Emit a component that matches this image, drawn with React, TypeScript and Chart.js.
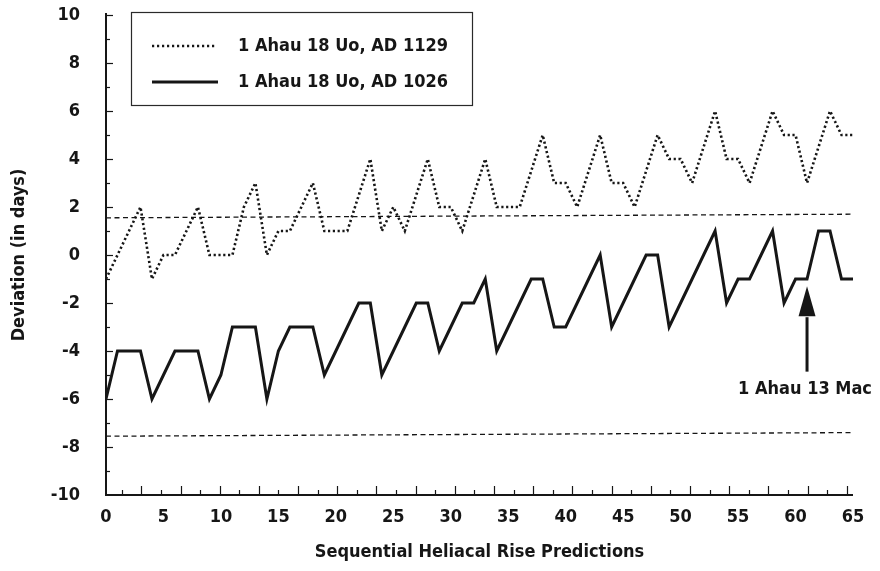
import React, { useEffect, useRef } from "react";
import { Chart, registerables } from "chart.js";

Chart.register(...registerables);

// ---- data ----
const seriesLabels = ["1 Ahau 18 Uo, AD 1129", "1 Ahau 18 Uo, AD 1026"];

// deviation in days, prediction index 0..65
const dev1129 = [
  -1, 0, 1, 2, -1,
  0, 0, 1, 2, 0,
  0, 0, 2, 3, 0,
  1, 1, 2, 3, 1,
  1, 1, 2.5, 4, 1,
  2, 1, 2.5, 4, 2,
  2, 1, 2.5, 4, 2,
  2, 2, 3.5, 5, 3,
  3, 2, 3.5, 5, 3,
  3, 2, 3.5, 5, 4,
  4, 3, 4.5, 6, 4,
  4, 3, 4.5, 6, 5,
  5, 3, 4.5, 6, 5,
  5,
];

const dev1026 = [
  -6, -4, -4, -4, -6,
  -5, -4, -4, -4, -6,
  -5, -3, -3, -3, -6,
  -4, -3, -3, -3, -5,
  -4, -3, -2, -2, -5,
  -4, -3, -2, -2, -4,
  -3, -2, -2, -1, -4,
  -3, -2, -1, -1, -3,
  -3, -2, -1, 0, -3,
  -2, -1, 0, 0, -3,
  -2, -1, 0, 1, -2,
  -1, -1, 0, 1, -2,
  -1, -1, 1, 1, -1,
  -1,
];

// dashed reference lines: value at x=0 and at x=65
const refLineX = [0, 65];
const upperRef = [1.55, 1.7];
const lowerRef = [-7.55, -7.4];

// annotation
const annotationText = "1 Ahau 13 Mac";
const annotationX = 61;
const annotationTipY = -1.3;
const annotationHeadBaseY = -2.55;
const annotationTailY = -4.86;
const annotationTextY = -5.6;

// axes
const xMin = 0;
const xMax = 65;
const xStep = 5;
const yMin = -10;
const yMax = 10;
const yStep = 2;
const xTitle = "Sequential Heliacal Rise Predictions";
const yTitle = "Deviation (in days)";

const FONT = "'Liberation Sans Narrow', 'DejaVu Sans Condensed', 'Liberation Sans', Arial, sans-serif";
const FONT_SIZE = 18;
const INK = "#161616";

const overlayPlugin = {
  id: "overlay",
  afterDraw(chart: any) {
    const { ctx } = chart;
    const x = chart.scales.x;
    const y = chart.scales.y;
    ctx.save();
    ctx.strokeStyle = INK;
    ctx.fillStyle = INK;

    // axes lines
    ctx.lineWidth = 2;
    ctx.beginPath();
    ctx.moveTo(x.left, y.top - 2);
    ctx.lineTo(x.left, y.bottom);
    ctx.lineTo(x.right, y.bottom);
    ctx.stroke();

    // y ticks (inward)
    ctx.lineWidth = 1.2;
    for (let v = yMin + 1; v <= yMax; v++) {
      const py = Math.round(y.getPixelForValue(v)) + 0.5;
      const len = v % 2 === 0 ? 7 : 4;
      ctx.beginPath();
      ctx.moveTo(x.left, py);
      ctx.lineTo(x.left + len, py);
      ctx.stroke();
    }
    // x ticks (inward)
    let k = 0;
    for (let v = 1.37; v <= xMax; v += 1.705) {
      const px = Math.round(x.getPixelForValue(v)) + 0.5;
      const len = k % 2 === 1 ? 9 : 5;
      ctx.beginPath();
      ctx.moveTo(px, y.bottom);
      ctx.lineTo(px, y.bottom - len);
      ctx.stroke();
      k++;
    }

    // legend box
    ctx.lineWidth = 1.2;
    ctx.strokeStyle = "#2a2a2a";
    ctx.strokeRect(131.5, 12.5, 341, 93);
    // legend samples
    ctx.strokeStyle = INK;
    ctx.lineWidth = 2.4;
    ctx.setLineDash([2.2, 2.8]);
    ctx.beginPath();
    ctx.moveTo(152, 46);
    ctx.lineTo(217, 46);
    ctx.stroke();
    ctx.setLineDash([]);
    ctx.lineWidth = 3;
    ctx.beginPath();
    ctx.moveTo(152, 82);
    ctx.lineTo(218, 82);
    ctx.stroke();
    ctx.font = `bold ${FONT_SIZE}px ${FONT}`;
    ctx.textAlign = "left";
    ctx.textBaseline = "middle";
    ctx.fillText(seriesLabels[0], 238, 46);
    ctx.fillText(seriesLabels[1], 238, 82);

    // annotation arrow
    const ax = x.getPixelForValue(annotationX);
    const tip = y.getPixelForValue(annotationTipY);
    const headBase = y.getPixelForValue(annotationHeadBaseY);
    const tail = y.getPixelForValue(annotationTailY);
    ctx.lineWidth = 3;
    ctx.beginPath();
    ctx.moveTo(ax, tail);
    ctx.lineTo(ax, headBase + 1);
    ctx.stroke();
    ctx.beginPath();
    ctx.moveTo(ax, tip);
    ctx.lineTo(ax - 8.5, headBase);
    ctx.lineTo(ax + 8.5, headBase);
    ctx.closePath();
    ctx.fill();
    ctx.textAlign = "center";
    ctx.fillText(annotationText, ax - 2, y.getPixelForValue(annotationTextY));

    ctx.restore();
  },
};

export default function App() {
  const canvasRef = useRef<HTMLCanvasElement | null>(null);

  useEffect(() => {
    const canvas = canvasRef.current;
    if (!canvas) return;
    const chart = new Chart(canvas, {
      type: "line",
      data: {
        datasets: [
          {
            label: seriesLabels[0],
            data: dev1129.map((v, i) => ({ x: i, y: v })),
            borderColor: INK,
            borderWidth: 2.6,
            borderDash: [2.2, 2.6],
            pointRadius: 0,
            tension: 0,
            fill: false,
          },
          {
            label: seriesLabels[1],
            data: dev1026.map((v, i) => ({ x: i, y: v })),
            borderColor: INK,
            borderWidth: 3,
            pointRadius: 0,
            tension: 0,
            fill: false,
            borderJoinStyle: "miter",
          },
          {
            label: "upper",
            data: refLineX.map((xv, i) => ({ x: xv, y: upperRef[i] })),
            borderColor: INK,
            borderWidth: 1.3,
            borderDash: [5, 3.5],
            pointRadius: 0,
            fill: false,
          },
          {
            label: "lower",
            data: refLineX.map((xv, i) => ({ x: xv, y: lowerRef[i] })),
            borderColor: INK,
            borderWidth: 1.3,
            borderDash: [5, 3.5],
            pointRadius: 0,
            fill: false,
          },
        ],
      },
      options: {
        animation: false,
        responsive: false,
        devicePixelRatio: 1,
        layout: { padding: { left: 0, top: 15, right: 27, bottom: 0 } },
        plugins: {
          legend: { display: false },
          tooltip: { enabled: false },
        },
        scales: {
          x: {
            type: "linear",
            min: xMin,
            max: xMax,
            grid: { display: false, drawTicks: false },
            border: { display: false },
            ticks: {
              stepSize: xStep,
              padding: 12,
              color: INK,
              font: { family: FONT, size: FONT_SIZE, weight: "bold" },
              maxRotation: 0,
            },
            title: {
              display: true,
              text: xTitle,
              color: INK,
              font: { family: FONT, size: FONT_SIZE, weight: "bold" },
              padding: { top: 0, bottom: 8 },
            },
            afterFit: (s: any) => {
              s.height = 76;
            },
          },
          y: {
            type: "linear",
            min: yMin,
            max: yMax,
            grid: { display: false, drawTicks: false },
            border: { display: false },
            ticks: {
              stepSize: yStep,
              padding: 26,
              color: INK,
              font: { family: FONT, size: FONT_SIZE, weight: "bold" },
            },
            title: {
              display: true,
              text: yTitle,
              color: INK,
              font: { family: FONT, size: FONT_SIZE, weight: "bold" },
              padding: { top: 9, bottom: 0 },
            },
            afterFit: (s: any) => {
              s.width = 106;
              s.paddingTop = 8;
              s.paddingBottom = 8;
            },
          },
        },
      },
      plugins: [overlayPlugin],
    });
    return () => chart.destroy();
  }, []);

  return (
    <div
      style={{
        position: "fixed",
        left: 0,
        top: 0,
        width: 880,
        height: 571,
        background: "#ffffff",
      }}
    >
      <canvas ref={canvasRef} width={880} height={571} style={{ width: 880, height: 571, display: "block" }} />
    </div>
  );
}
